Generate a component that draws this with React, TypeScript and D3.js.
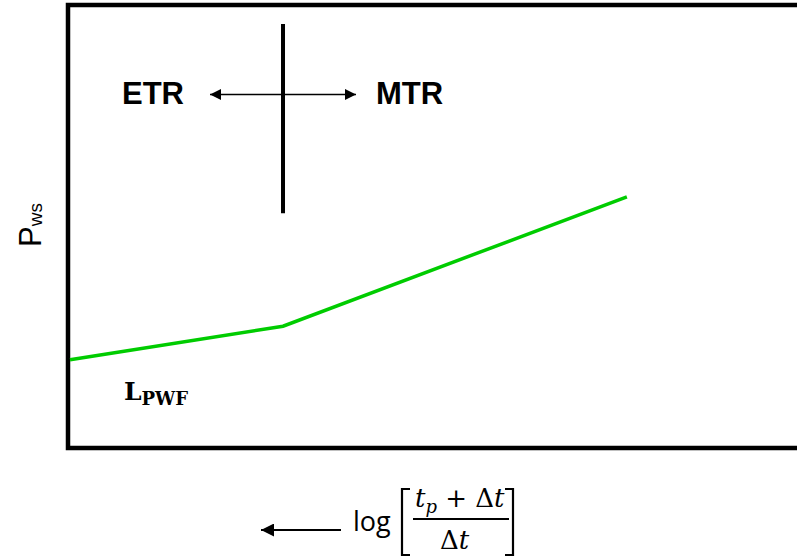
import React from "react";
import * as d3 from "d3";

// Buildup response on a Horner-type plot (arbitrary log-time units)
const curveX = [0, 2.93, 7.66];
const curveY = [1.99, 2.75, 5.67];

// Boundary between early-time and middle-time regions
const dividerX = [2.93, 2.93];
const dividerY = [5.3, 9.57];

// Region labels
const regionLabels = ["ETR", "MTR"];

const W = 797;
const H = 556;

export default function App() {
  const x = d3.scaleLinear().domain([0, 10]).range([70, 797]);
  const y = d3.scaleLinear().domain([0, 10]).range([448, 5]);

  const line = d3
    .line<[number, number]>()
    .x((d) => x(d[0]))
    .y((d) => y(d[1]));

  const curve = curveX.map((v, i) => [v, curveY[i]] as [number, number]);
  const divider = dividerX.map((v, i) => [v, dividerY[i]] as [number, number]);

  const arrowY = y(7.98);
  const sans = "'Liberation Sans', Arial, sans-serif";
  const mathFont = "'DejaVu Serif', 'Liberation Serif', serif";

  return (
    <svg
      width={W}
      height={H}
      style={{ position: "absolute", left: 0, top: 0, background: "#fff" }}
    >
      <defs>
        <marker
          id="ah2"
          viewBox="0 0 10 10"
          refX="10"
          refY="5"
          markerWidth="14"
          markerHeight="11"
          markerUnits="userSpaceOnUse"
          orient="auto-start-reverse"
        >
          <path d="M0,0 L10,5 L0,10 z" fill="#000" />
        </marker>
        <marker
          id="ah3"
          viewBox="0 0 10 10"
          refX="10"
          refY="5"
          markerWidth="17"
          markerHeight="13"
          markerUnits="userSpaceOnUse"
          orient="auto-start-reverse"
        >
          <path d="M0,0 L10,5 L0,10 z" fill="#000" />
        </marker>
      </defs>

      {/* plot frame (open on the right) */}
      <path
        d={`M${W + 5},${y(10)} H68 V448 H${W + 5}`}
        fill="none"
        stroke="#000"
        strokeWidth={4.5}
      />

      {/* region divider */}
      <path d={line(divider) ?? ""} stroke="#000" strokeWidth={4} fill="none" />

      {/* double-headed arrow */}
      <line
        x1={x(2.93) - 73}
        x2={x(2.93) + 73}
        y1={arrowY}
        y2={arrowY}
        stroke="#000"
        strokeWidth={1.6}
        markerStart="url(#ah2)"
        markerEnd="url(#ah2)"
      />
      <text x={122} y={104} fontFamily={sans} fontWeight="bold" fontSize={31}>
        {regionLabels[0]}
      </text>
      <text x={376} y={104} fontFamily={sans} fontWeight="bold" fontSize={31}>
        {regionLabels[1]}
      </text>

      {/* pressure curve */}
      <path d={line(curve) ?? ""} stroke="#00cc00" strokeWidth={3.5} fill="none" />

      {/* L_PWF */}
      <text x={124} y={400} fontFamily={mathFont} fontWeight="bold" fontSize={25}>
        L
        <tspan fontSize={18} dy={5}>
          PWF
        </tspan>
      </text>

      {/* y label */}
      <text
        transform="translate(41,247) rotate(-90)"
        fontFamily={sans}
        fontSize={31}
      >
        P
        <tspan fontSize={19} dy={1}>
          ws
        </tspan>
      </text>

      {/* x label */}
      <line
        x1={341}
        x2={261}
        y1={530}
        y2={530}
        stroke="#000"
        strokeWidth={1.8}
        markerEnd="url(#ah3)"
      />
      <text x={353} y={531} fontFamily="'Open Sans', sans-serif" fontSize={27}>
        log
      </text>
      {/* brackets */}
      <path d="M410,489 H402 V555 H410" fill="none" stroke="#000" strokeWidth={2.2} />
      <path d="M505,489 H513 V555 H505" fill="none" stroke="#000" strokeWidth={2.2} />
      <text x={415} y={507} fontFamily={mathFont} fontSize={26}>
        <tspan fontStyle="italic">t</tspan>
        <tspan fontStyle="italic" fontSize={18} dy={6}>p</tspan>
        <tspan dy={-6}> + Δ</tspan>
        <tspan fontStyle="italic">t</tspan>
      </text>
      <line x1={413} x2={509} y1={519} y2={519} stroke="#000" strokeWidth={2} />
      <text x={440} y={549} fontFamily={mathFont} fontSize={26}>
        Δ<tspan fontStyle="italic">t</tspan>
      </text>
    </svg>
  );
}
